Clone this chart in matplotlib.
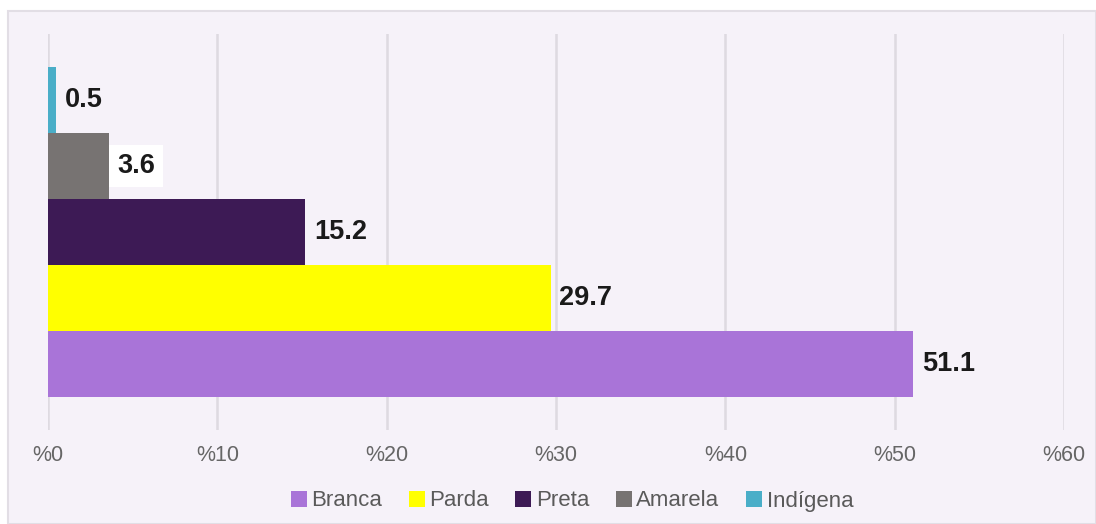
import matplotlib
matplotlib.use("Agg")
import matplotlib.pyplot as plt
from matplotlib.patches import Rectangle, Patch

# Race/colour distribution (%)
categories = ["Branca", "Parda", "Preta", "Amarela", "Indígena"]
values = [51.1, 29.7, 15.2, 3.6, 0.5]
colors = ["#a974d8", "#ffff00", "#3d1a55", "#777372", "#4aaec8"]
tick_values = [0, 10, 20, 30, 40, 50, 60]
tick_labels = ["%0", "%10", "%20", "%30", "%40", "%50", "%60"]

W, H = 1096, 524
fig = plt.figure(figsize=(W / 100, H / 100), dpi=100)
fig.patch.set_facecolor("white")

# Lavender panel behind the chart
panel = Rectangle((8 / W, 0), 1 - 8 / W, 1 - 11 / H, transform=fig.transFigure,
                  facecolor="#f6f2f9", edgecolor="#e2dee5", linewidth=1.5, zorder=-5)
fig.patches.append(panel)

ax = fig.add_axes([48 / W, 1 - 430 / H, (1064 - 48) / W, (430 - 34) / H])
ax.set_facecolor("none")
ax.set_zorder(2)

for i, (cat, val, col) in enumerate(zip(categories, values, colors)):
    ax.barh(i, val, height=1.0, color=col, zorder=3)
    bbox = None
    if cat == "Amarela":
        bbox = dict(boxstyle="square,pad=0.3", facecolor="white", edgecolor="none")
    ax.text(val + 0.5, i, f"{val}", va="center", ha="left", fontsize=19.5,
            fontweight="bold", color="#1a1a1a", family="Liberation Sans",
            bbox=bbox, zorder=4)

ax.set_xlim(0, 60)
ax.set_ylim(-1, 5)
ax.set_xticks(tick_values)
ax.set_xticklabels(tick_labels, fontsize=15.5, color="#666666", family="Liberation Sans")
ax.set_yticks([])
ax.tick_params(axis="x", length=0, pad=11)
ax.grid(axis="x", color="#dedae1", linewidth=1.8, zorder=1)
for s in ax.spines.values():
    s.set_visible(False)

handles = [Patch(facecolor=c, edgecolor="none") for c in colors]
leg = fig.legend(handles, categories, loc="center", bbox_to_anchor=(572 / W, 1 - 501 / H),
                 ncol=5, frameon=False, handlelength=0.72, handleheight=0.72,
                 handletextpad=0.2, columnspacing=1.2, labelcolor="#5a5a5a",
                 prop={"family": "Liberation Sans", "size": 16})

fig.savefig("out.png", dpi=100, facecolor=fig.get_facecolor())
